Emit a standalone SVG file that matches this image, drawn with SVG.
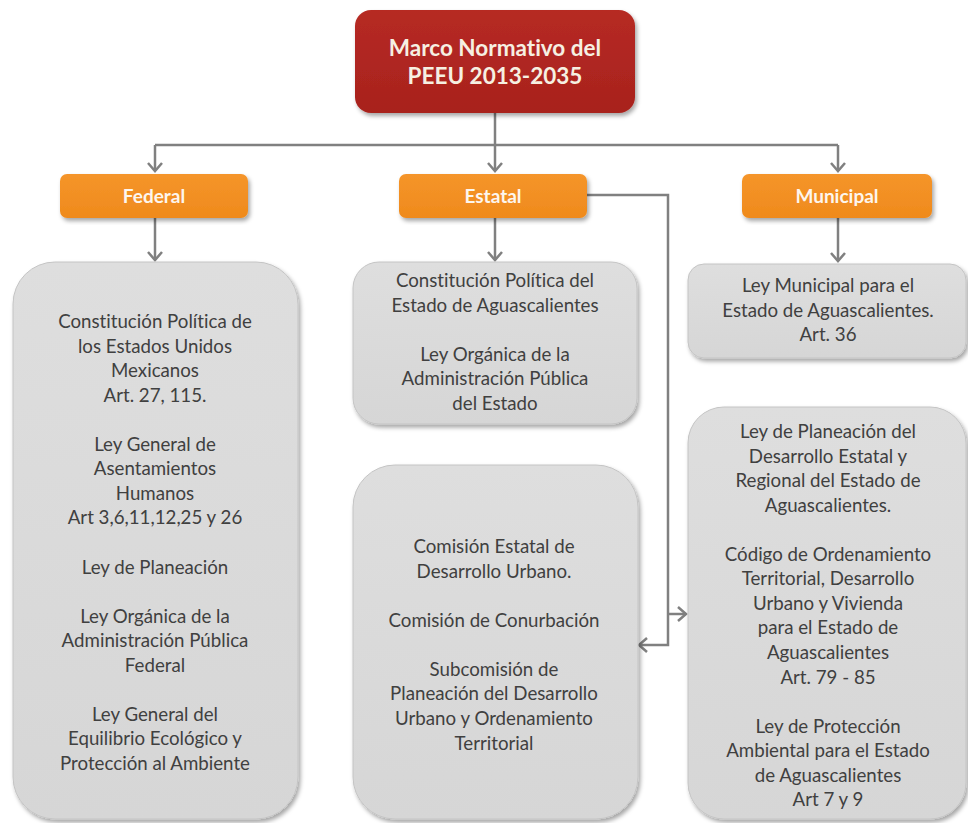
<svg xmlns="http://www.w3.org/2000/svg" width="968" height="823" viewBox="0 0 968 823">
  <defs>
    <style>
      text { font-variant-ligatures: none; font-feature-settings: "liga" 0, "clig" 0; }
      .title { font-family: Lato, "Open Sans", "Liberation Sans", sans-serif; font-weight: bold; font-size: 22.5px; fill: #f6f0e2; text-anchor: middle; }
      .cat { font-family: Lato, "Open Sans", "Liberation Sans", sans-serif; font-weight: bold; font-size: 19px; fill: #fdf6ee; text-anchor: middle; }
      .body { font-family: Lato, "Open Sans", "Liberation Sans", sans-serif; font-size: 18.7px; fill: #404040; text-anchor: middle; }
      .conn { stroke: #808080; stroke-width: 2.5; fill: none; }
      .red { fill: url(#gRed); }
      .orange { fill: url(#gOrange); }
      .grey { fill: url(#gGrey); stroke: #c4c4c4; stroke-width: 1; }
    </style>
    <linearGradient id="gRed" x1="0" y1="0" x2="0" y2="1">
      <stop offset="0" stop-color="#b62a24"/>
      <stop offset="1" stop-color="#a8221d"/>
    </linearGradient>
    <linearGradient id="gOrange" x1="0" y1="0" x2="0" y2="1">
      <stop offset="0" stop-color="#f5952a"/>
      <stop offset="1" stop-color="#ef8a1c"/>
    </linearGradient>
    <linearGradient id="gGrey" x1="0" y1="0" x2="0" y2="1">
      <stop offset="0" stop-color="#dedede"/>
      <stop offset="1" stop-color="#d6d6d6"/>
    </linearGradient>
    <filter id="shadow" x="-10%" y="-10%" width="125%" height="125%">
      <feDropShadow dx="2" dy="3" stdDeviation="2" flood-color="#000" flood-opacity="0.35"/>
    </filter>
    <marker id="arrow" markerUnits="userSpaceOnUse" markerWidth="14" markerHeight="18" refX="10" refY="9" orient="auto" viewBox="0 0 14 18">
      <path d="M2,2 L10,9 L2,16" fill="none" stroke="#808080" stroke-width="2.5"/>
    </marker>
  </defs>

  <rect width="968" height="823" fill="#ffffff"/>

  <g id="connectors">
    <path class="conn" d="M495,113 V171" marker-end="url(#arrow)"/>
    <path class="conn" d="M155,145 H838"/>
    <path class="conn" d="M155,145 V171" marker-end="url(#arrow)"/>
    <path class="conn" d="M838,145 V171" marker-end="url(#arrow)"/>
    <path class="conn" d="M155,218 V260" marker-end="url(#arrow)"/>
    <path class="conn" d="M495,218 V260" marker-end="url(#arrow)"/>
    <path class="conn" d="M838,218 V261" marker-end="url(#arrow)"/>
    <path class="conn" d="M587,195 H668 V645 H639" marker-end="url(#arrow)"/>
    <path class="conn" d="M668,614 H686" marker-end="url(#arrow)"/>
  </g>

  <g id="node-marco">
    <rect class="red" x="355" y="10" width="280" height="103" rx="16" filter="url(#shadow)"/>
    <text class="title" x="495" y="56">Marco Normativo del</text>
    <text class="title" x="495" y="84">PEEU 2013-2035</text>
  </g>

  <g id="node-federal">
    <rect class="orange" x="60" y="174" width="188" height="44" rx="7" filter="url(#shadow)"/>
    <text class="cat" x="154" y="203">Federal</text>
  </g>
  <g id="node-estatal">
    <rect class="orange" x="399" y="174" width="188" height="44" rx="7" filter="url(#shadow)"/>
    <text class="cat" x="493" y="203">Estatal</text>
  </g>
  <g id="node-municipal">
    <rect class="orange" x="742" y="174" width="190" height="44" rx="7" filter="url(#shadow)"/>
    <text class="cat" x="837" y="203">Municipal</text>
  </g>

  <g id="node-federal-leyes">
    <rect class="grey" x="13" y="262" width="285" height="557" rx="42" filter="url(#shadow)"/>
    <text class="body" x="155" y="328">Constitución Política de</text>
    <text class="body" x="155" y="352.6">los Estados Unidos</text>
    <text class="body" x="155" y="377.1">Mexicanos</text>
    <text class="body" x="155" y="401.7">Art. 27, 115.</text>
    <text class="body" x="155" y="450.8">Ley General de</text>
    <text class="body" x="155" y="475.3">Asentamientos</text>
    <text class="body" x="155" y="499.9">Humanos</text>
    <text class="body" x="155" y="524.4">Art 3,6,11,12,25 y 26</text>
    <text class="body" x="155" y="573.5">Ley de Planeación</text>
    <text class="body" x="155" y="622.6">Ley Orgánica de la</text>
    <text class="body" x="155" y="647.2">Administración Pública</text>
    <text class="body" x="155" y="671.7">Federal</text>
    <text class="body" x="155" y="720.8">Ley General del</text>
    <text class="body" x="155" y="745.4">Equilibrio Ecológico y</text>
    <text class="body" x="155" y="769.9">Protección al Ambiente</text>
  </g>

  <g id="node-estatal-leyes">
    <rect class="grey" x="353" y="262" width="284" height="162" rx="26" filter="url(#shadow)"/>
    <text class="body" x="495" y="287">Constitución Política del</text>
    <text class="body" x="495" y="311.6">Estado de Aguascalientes</text>
    <text class="body" x="495" y="360.7">Ley Orgánica de la</text>
    <text class="body" x="495" y="385.3">Administración Pública</text>
    <text class="body" x="495" y="409.8">del Estado</text>
  </g>

  <g id="node-comisiones">
    <rect class="grey" x="353" y="465" width="285" height="354" rx="42" filter="url(#shadow)"/>
    <text class="body" x="494" y="553">Comisión Estatal de</text>
    <text class="body" x="494" y="577.6">Desarrollo Urbano.</text>
    <text class="body" x="494" y="626.7">Comisión de Conurbación</text>
    <text class="body" x="494" y="675.8">Subcomisión de</text>
    <text class="body" x="494" y="700.4">Planeación del Desarrollo</text>
    <text class="body" x="494" y="724.9">Urbano y Ordenamiento</text>
    <text class="body" x="494" y="749.5">Territorial</text>
  </g>

  <g id="node-municipal-ley">
    <rect class="grey" x="688" y="264" width="278" height="94" rx="16" filter="url(#shadow)"/>
    <text class="body" x="828" y="292">Ley Municipal para el</text>
    <text class="body" x="828" y="316.6">Estado de Aguascalientes.</text>
    <text class="body" x="828" y="341.1">Art. 36</text>
  </g>

  <g id="node-leyes-estatales">
    <rect class="grey" x="688" y="407" width="278" height="412" rx="36" filter="url(#shadow)"/>
    <text class="body" x="828" y="438">Ley de Planeación del</text>
    <text class="body" x="828" y="462.6">Desarrollo Estatal y</text>
    <text class="body" x="828" y="487.1">Regional del Estado de</text>
    <text class="body" x="828" y="511.7">Aguascalientes.</text>
    <text class="body" x="828" y="560.8">Código de Ordenamiento</text>
    <text class="body" x="828" y="585.3">Territorial, Desarrollo</text>
    <text class="body" x="828" y="609.9">Urbano y Vivienda</text>
    <text class="body" x="828" y="634.4">para el Estado de</text>
    <text class="body" x="828" y="659">Aguascalientes</text>
    <text class="body" x="828" y="683.5">Art. 79 - 85</text>
    <text class="body" x="828" y="732.6">Ley de Protección</text>
    <text class="body" x="828" y="757.2">Ambiental para el Estado</text>
    <text class="body" x="828" y="781.7">de Aguascalientes</text>
    <text class="body" x="828" y="806.3">Art 7 y 9</text>
  </g>
</svg>
